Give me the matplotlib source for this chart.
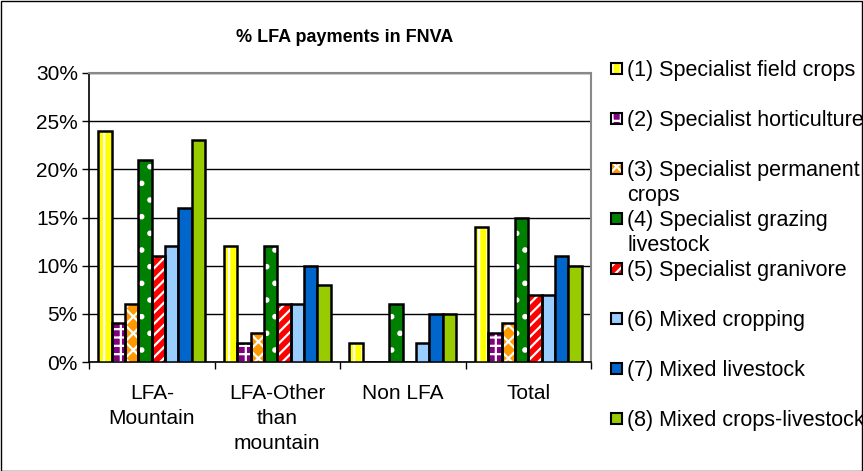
import numpy as np
import matplotlib
matplotlib.use("Agg")
import matplotlib.pyplot as plt
from matplotlib.patches import Rectangle

# -------------------------
# Data
# -------------------------

categories = ["LFA-\nMountain", "LFA-Other\nthan\nmountain", "Non LFA", "Total"]

series_names = [
    "(1) Specialist field crops",
    "(2) Specialist horticulture",
    "(3) Specialist permanent\ncrops",
    "(4) Specialist grazing\nlivestock",
    "(5) Specialist granivore",
    "(6) Mixed cropping",
    "(7) Mixed livestock",
    "(8) Mixed crops-livestock",
]

field_crops = [24, 12, 2, 14]
horticulture = [4, 2, 0, 3]
permanent_crops = [6, 3, 0, 4]
grazing_livestock = [21, 12, 6, 15]
granivore = [11, 6, 0, 7]
mixed_cropping = [12, 6, 2, 7]
mixed_livestock = [16, 10, 5, 11]
mixed_crops_livestock = [23, 8, 5, 10]

series_values = [
    field_crops, horticulture, permanent_crops, grazing_livestock,
    granivore, mixed_cropping, mixed_livestock, mixed_crops_livestock,
]

y_ticks = [0, 5, 10, 15, 20, 25, 30]

# -------------------------
# Styles
# -------------------------

faces = ["#FFFF00", "#800080", "#FF9900", "#008000",
         "#FF0000", "#99CCFF", "#0066CC", "#99CC00"]
hatches = ["||", "++", "xx", ".", "///", None, None, None]
hatch_colors = ["white"] * 8

plt.rcParams["font.family"] = ["Liberation Sans", "DejaVu Sans"]
plt.rcParams["hatch.linewidth"] = 1.6

W, H = 863, 471
fig = plt.figure(figsize=(W / 100, H / 100), dpi=100)

ax = fig.add_axes([89 / W, 1 - 362 / H, (591 - 89) / W, (362 - 73) / H])

x = np.arange(len(categories))
n = len(series_values)
w = 0.852 / n


def draw_bar(axis, xs, hs, width, i):
    if hatches[i]:
        axis.bar(xs, hs, width, color=faces[i], hatch=hatches[i],
                 edgecolor=hatch_colors[i], linewidth=0, zorder=3)
        axis.bar(xs, hs, width, fill=False, edgecolor="black",
                 linewidth=1.8, zorder=4)
    else:
        axis.bar(xs, hs, width, color=faces[i], edgecolor="black",
                 linewidth=1.8, zorder=3)


for i, vals in enumerate(series_values):
    draw_bar(ax, x + (i - (n - 1) / 2) * w, vals, w, i)

ax.set_xlim(-0.5, len(categories) - 0.5)
ax.set_ylim(0, 30)

ax.set_yticks(y_ticks)
ax.set_yticklabels([f"{v}%" for v in y_ticks], fontsize=15)
ax.yaxis.grid(True, color="black", linewidth=1)
ax.set_axisbelow(True)

ax.set_xticks(x)
ax.set_xticklabels(categories, fontsize=15, va="top", linespacing=1.4)
ax.set_xticks(np.arange(len(categories) + 1) - 0.5, minor=True)
ax.tick_params(axis="x", which="major", length=0, pad=16)
ax.tick_params(axis="x", which="minor", length=5, width=1, direction="out")
ax.tick_params(axis="y", length=5, width=1, direction="out", pad=3)

for side in ["left", "bottom"]:
    ax.spines[side].set_color("black")
    ax.spines[side].set_linewidth(1.2)
for side in ["top", "right"]:
    ax.spines[side].set_color("#888888")
    ax.spines[side].set_linewidth(1.5)

fig.text(345 / W, 1 - 38 / H, "% LFA payments in FNVA",
         ha="center", va="center", fontsize=13, fontweight="bold")

# -------------------------
# Legend
# -------------------------

legend_y = [68, 118, 168, 218, 268, 318, 368, 418]
for i, name in enumerate(series_names):
    yc = legend_y[i]
    box = (611 / W, 1 - (yc + 6) / H)
    bw, bh = 11 / W, 11 / H
    if hatches[i]:
        fig.add_artist(Rectangle(box, bw, bh, facecolor=faces[i],
                                 hatch=hatches[i], edgecolor=hatch_colors[i],
                                 linewidth=0))
        fig.add_artist(Rectangle(box, bw, bh, fill=False,
                                 edgecolor="black", linewidth=1.5))
    else:
        fig.add_artist(Rectangle(box, bw, bh, facecolor=faces[i],
                                 edgecolor="black", linewidth=1.5))
    for k, line in enumerate(name.split("\n")):
        fig.text(627 / W, 1 - (yc + 8 + 25 * k) / H, line, ha="left",
                 va="baseline", fontsize=15.5)

# outer frame
fig.add_artist(Rectangle((0.5 / W, 0.5 / H), 1 - 1.5 / W, 1 - 1.5 / H,
                         fill=False, edgecolor="black", linewidth=1,
                         transform=fig.transFigure))

fig.savefig("out.png", dpi=100)
